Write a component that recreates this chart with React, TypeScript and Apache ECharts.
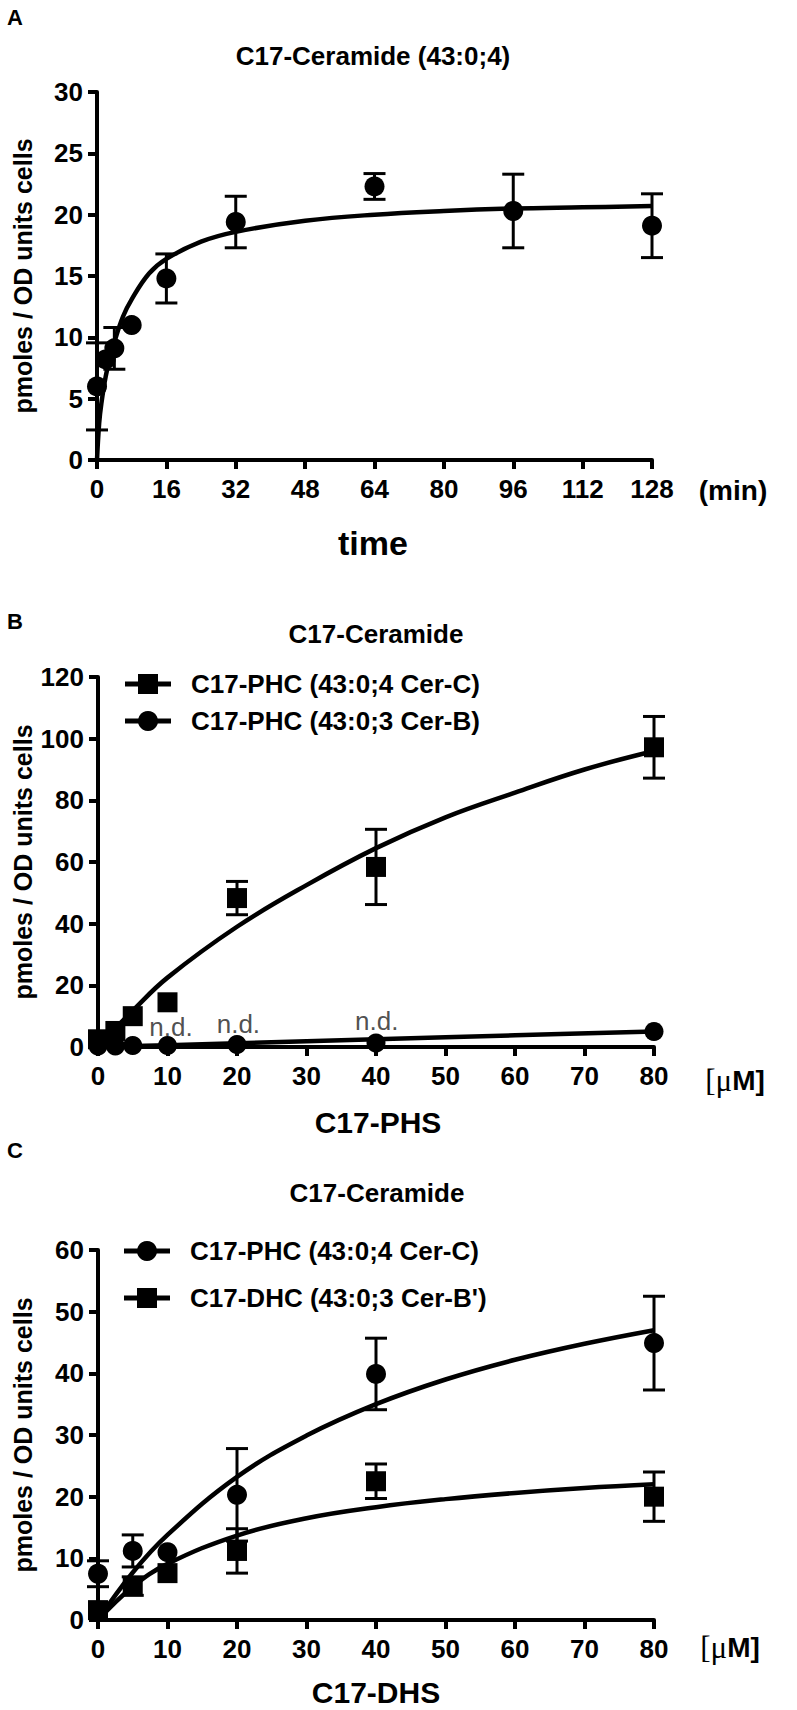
import React, { useEffect, useRef } from "react";
import * as echarts from "echarts";

// ---------- Panel A : C17-Ceramide (43:0;4) vs time ----------
const aTime = [0, 2, 4, 8, 16, 32, 64, 96, 128];
const aMean = [6.0, 8.2, 9.1, 11.0, 14.8, 19.4, 22.3, 20.3, 19.1];
const aErr = [3.55, 0, 1.7, 0, 2.0, 2.1, 1.05, 3.0, 2.6];
const aFitT = [0, 0.5, 1, 2, 3, 4, 6, 8, 12, 16, 24, 32, 48, 64, 80, 96, 112, 128];
const aFitY = [0, 3.0, 4.6, 6.8, 8.3, 9.6, 11.7, 13.1, 15.2, 16.4, 17.8, 18.6, 19.5, 20.0, 20.3, 20.5, 20.6, 20.7];
const aXTicks = [0, 16, 32, 48, 64, 80, 96, 112, 128];
const aYTicks = [0, 5, 10, 15, 20, 25, 30];

// ---------- Panel B : C17-PHS ----------
const bX = [0, 2.5, 5, 10, 20, 40, 80];
const bSqMean = [2.5, 5.2, 10.0, 14.5, 48.3, 58.4, 97.2];
const bSqErr = [0, 0, 0, 0, 5.4, 12.2, 10.0];
const bCiMean = [0.3, 0.3, 0.5, 0.5, 0.8, 1.3, 5.0];
const bFitSqX = [0, 2.5, 5, 10, 20, 30, 40, 50, 60, 70, 80];
const bFitSqY = [0, 6.0, 11.8, 22.5, 39.0, 52.5, 64.5, 74.5, 82.5, 90.0, 96.0];
const bFitCiX = [0, 10, 20, 40, 60, 80];
const bFitCiY = [0, 0.6, 1.2, 2.5, 3.8, 5.0];
const bNdX = [10.5, 20.2, 40.1];
const bNdY = [6.4, 7.5, 8.4];
const bXTicks = [0, 10, 20, 30, 40, 50, 60, 70, 80];
const bYTicks = [0, 20, 40, 60, 80, 100, 120];

// ---------- Panel C : C17-DHS ----------
const cX = [0, 5, 10, 20, 40, 80];
const cCiMean = [7.5, 11.2, 11.0, 20.3, 39.9, 44.9];
const cCiErr = [2.1, 2.6, 0, 7.5, 5.8, 7.6];
const cSqMean = [1.6, 5.5, 7.6, 11.2, 22.5, 20.0];
const cSqErr = [0, 1.5, 0, 3.6, 2.8, 4.0];
const cFitX = [0, 5, 10, 20, 30, 40, 50, 60, 70, 80];
const cFitCiY = [0, 7.7, 13.8, 23.2, 29.9, 35.0, 39.0, 42.2, 44.8, 47.0];
const cFitSqY = [0, 5.4, 9.1, 13.7, 16.5, 18.3, 19.6, 20.6, 21.4, 22.0];
const cXTicks = [0, 10, 20, 30, 40, 50, 60, 70, 80];
const cYTicks = [0, 10, 20, 30, 40, 50, 60];

const legendB = ["C17-PHC (43:0;4 Cer-C)", "C17-PHC (43:0;3 Cer-B)"];
const legendC = ["C17-PHC (43:0;4 Cer-C)", "C17-DHC (43:0;3 Cer-B')"];

const SANS = "'Liberation Sans', Arial, Helvetica, sans-serif";
const SERIF = "'Liberation Serif', 'Times New Roman', serif";

const zip = (xs: number[], ys: number[]) => xs.map((x, i) => [x, ys[i]]);
const errData = (xs: number[], m: number[], e: number[]) =>
  xs.map((x, i) => [x, m[i] - e[i], m[i] + e[i]]).filter((d, i) => e[i] > 0);

function xAxis(gridIndex: number, ticks: number[]) {
  return {
    type: "value",
    gridIndex,
    min: ticks[0],
    max: ticks[ticks.length - 1],
    interval: ticks[1] - ticks[0],
    axisLine: { show: true, onZero: false, lineStyle: { color: "#000", width: 4 } },
    axisTick: { show: true, length: 9, lineStyle: { color: "#000", width: 4 } },
    axisLabel: { color: "#000", fontSize: 26, fontWeight: "bold", fontFamily: SANS, margin: 16 },
    splitLine: { show: false },
  };
}
function yAxis(gridIndex: number, ticks: number[]) {
  return {
    type: "value",
    gridIndex,
    min: ticks[0],
    max: ticks[ticks.length - 1],
    interval: ticks[1] - ticks[0],
    axisLine: { show: true, onZero: false, lineStyle: { color: "#000", width: 4 } },
    axisTick: { show: true, length: 9, lineStyle: { color: "#000", width: 4 } },
    axisLabel: { color: "#000", fontSize: 26, fontWeight: "bold", fontFamily: SANS, margin: 14 },
    splitLine: { show: false },
  };
}

function errSeries(idx: number, data: number[][]) {
  return {
    type: "custom",
    xAxisIndex: idx,
    yAxisIndex: idx,
    data,
    encode: { x: 0, y: [1, 2] },
    clip: false,
    silent: true,
    z: 3,
    renderItem: (params: any, api: any) => {
      const x = api.value(0);
      const p1 = api.coord([x, api.value(1)]);
      const p2 = api.coord([x, api.value(2)]);
      const w = 11;
      const st = { stroke: "#000", lineWidth: 3 };
      return {
        type: "group",
        children: [
          { type: "line", shape: { x1: p1[0], y1: p1[1], x2: p2[0], y2: p2[1] }, style: st },
          { type: "line", shape: { x1: p1[0] - w, y1: p1[1], x2: p1[0] + w, y2: p1[1] }, style: st },
          { type: "line", shape: { x1: p2[0] - w, y1: p2[1], x2: p2[0] + w, y2: p2[1] }, style: st },
        ],
      };
    },
  };
}
function fitSeries(idx: number, data: number[][]) {
  return {
    type: "line",
    xAxisIndex: idx,
    yAxisIndex: idx,
    data,
    showSymbol: false,
    symbol: "none",
    smooth: 0.4,
    clip: false,
    silent: true,
    z: 4,
    lineStyle: { color: "#000", width: 4.5, opacity: 1 },
  };
}
function pointSeries(idx: number, data: number[][], symbol: string, size: number) {
  return {
    type: "scatter",
    xAxisIndex: idx,
    yAxisIndex: idx,
    data,
    symbol,
    symbolSize: size,
    clip: false,
    silent: true,
    z: 5,
    itemStyle: { color: "#000", opacity: 1 },
  };
}

function txt(x: number, y: number, text: string, size: number, weight = "bold", align = "center", extra: any = {}) {
  return {
    type: "text",
    x,
    y,
    silent: true,
    ...extra,
    style: {
      text,
      fill: "#000",
      font: `${weight} ${size}px ${SANS}`,
      align,
      verticalAlign: "middle",
      textAlign: align,
      textVerticalAlign: "middle",
    },
  };
}

function unitText(x: number, y: number) {
  return {
    type: "text",
    x,
    y,
    silent: true,
    style: {
      text: "{a|[μ}{b|M]}",
      fill: "#000",
      align: "center",
      verticalAlign: "middle",
      textAlign: "center",
      textVerticalAlign: "middle",
      rich: {
        a: { fontFamily: SERIF, fontSize: 31, fontWeight: "normal", fill: "#000", color: "#000" },
        b: { fontFamily: SANS, fontSize: 28, fontWeight: "bold", fill: "#000", color: "#000" },
      },
    },
  };
}

function legendItem(x0: number, y: number, label: string, symbol: "rect" | "circle") {
  const items: any[] = [
    { type: "line", silent: true, shape: { x1: x0, y1: y, x2: x0 + 46, y2: y }, style: { stroke: "#000", lineWidth: 5 } },
  ];
  if (symbol === "rect") {
    items.push({ type: "rect", silent: true, shape: { x: x0 + 23 - 10, y: y - 10, width: 20, height: 20 }, style: { fill: "#000" } });
  } else {
    items.push({ type: "circle", silent: true, shape: { cx: x0 + 23, cy: y, r: 10 }, style: { fill: "#000" } });
  }
  items.push(txt(x0 + 66, y, label, 26, "bold", "left"));
  return items;
}

export default function App() {
  const ref = useRef<HTMLDivElement>(null);
  useEffect(() => {
    if (!ref.current) return;
    const chart = echarts.init(ref.current, null, { renderer: "svg" });
    const yTitle = "pmoles / OD units cells";
    const option: any = {
      animation: false,
      backgroundColor: "#fff",
      textStyle: { fontFamily: SANS },
      grid: [
        { left: 97, top: 92, width: 555, height: 368 },
        { left: 98, top: 677, width: 556, height: 370 },
        { left: 98, top: 1250, width: 556, height: 370 },
      ],
      xAxis: [xAxis(0, aXTicks), xAxis(1, bXTicks), xAxis(2, cXTicks)],
      yAxis: [yAxis(0, aYTicks), yAxis(1, bYTicks), yAxis(2, cYTicks)],
      series: [
        // A
        errSeries(0, errData(aTime, aMean, aErr)),
        fitSeries(0, zip(aFitT, aFitY)),
        pointSeries(0, zip(aTime, aMean), "circle", 20),
        // B
        errSeries(1, errData(bX, bSqMean, bSqErr)),
        fitSeries(1, zip(bFitSqX, bFitSqY)),
        fitSeries(1, zip(bFitCiX, bFitCiY)),
        pointSeries(1, zip(bX, bSqMean), "rect", 20),
        pointSeries(1, zip(bX, bCiMean), "circle", 19),
        {
          type: "scatter",
          xAxisIndex: 1,
          yAxisIndex: 1,
          data: zip(bNdX, bNdY),
          symbolSize: 0,
          silent: true,
          z: 6,
          label: {
            show: true,
            position: "inside",
            formatter: "n.d.",
            color: "#222",
            fontSize: 26,
            fontWeight: "normal",
            fontFamily: SANS,
          },
        },
        // C
        errSeries(2, errData(cX, cCiMean, cCiErr)),
        errSeries(2, errData(cX, cSqMean, cSqErr)),
        fitSeries(2, zip(cFitX, cFitCiY)),
        fitSeries(2, zip(cFitX, cFitSqY)),
        pointSeries(2, zip(cX, cCiMean), "circle", 20),
        pointSeries(2, zip(cX, cSqMean), "rect", 20),
      ],
      graphic: [
        // panel letters
        txt(15, 17, "A", 22, "bold"),
        txt(15, 621, "B", 22, "bold"),
        txt(15, 1150, "C", 22, "bold"),
        // titles
        txt(373, 56, "C17-Ceramide (43:0;4)", 26),
        txt(376, 634, "C17-Ceramide", 26),
        txt(377, 1193, "C17-Ceramide", 26),
        // y titles
        txt(23, 276, yTitle, 25, "bold", "center", { rotation: Math.PI / 2 }),
        txt(23, 862, yTitle, 25, "bold", "center", { rotation: Math.PI / 2 }),
        txt(23, 1435, yTitle, 25, "bold", "center", { rotation: Math.PI / 2 }),
        // x titles
        txt(373, 543, "time", 34),
        txt(378, 1122, "C17-PHS", 30),
        txt(376, 1692, "C17-DHS", 30),
        // units
        txt(733, 490, "(min)", 28),
        unitText(735, 1080),
        unitText(730, 1647),
        // legends
        ...legendItem(125, 684, legendB[0], "rect"),
        ...legendItem(125, 721, legendB[1], "circle"),
        ...legendItem(124, 1251, legendC[0], "circle"),
        ...legendItem(124, 1298, legendC[1], "rect"),
      ],
    };
    chart.setOption(option);
    return () => chart.dispose();
  }, []);
  return (
    <div
      ref={ref}
      style={{ position: "absolute", left: 0, top: 0, width: 797, height: 1710, background: "#fff" }}
    />
  );
}
